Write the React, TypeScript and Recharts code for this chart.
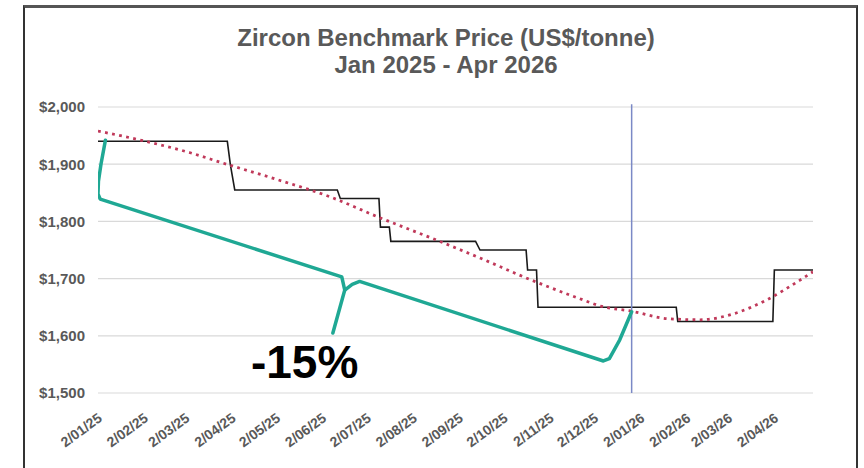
import { LineChart, Line, XAxis, YAxis, CartesianGrid, ReferenceLine, ReferenceDot } from 'recharts';

// x values are days counted from 2 Jan 2025
const tickDays = [0, 31, 59, 90, 120, 151, 181, 212, 243, 273, 304, 334, 365, 396, 424, 455];
const tickLabels = [
    '2/01/25', '2/02/25', '2/03/25', '2/04/25', '2/05/25', '2/06/25', '2/07/25', '2/08/25',
    '2/09/25', '2/10/25', '2/11/25', '2/12/25', '2/01/26', '2/02/26', '2/03/26', '2/04/26',
];
const priceTicks = [1500, 1600, 1700, 1800, 1900, 2000];

// benchmark price (step line)
const priceDays = [0, 87, 89, 90, 92, 161, 163, 189, 190, 196, 197, 254, 257, 288, 289, 295, 296, 389, 390, 454, 455, 481];
const prices = [1940, 1940, 1900, 1885, 1855, 1855, 1840, 1840, 1790, 1790, 1765, 1765, 1750, 1750, 1715, 1715, 1650, 1650, 1625, 1625, 1715, 1715];

// polynomial trendline
const trendDays = [0, 37, 62, 84, 122, 156, 190, 230, 257, 291, 324, 338, 359, 383, 405, 427, 450, 472, 481];
const trendValues = [1958, 1937, 1920, 1902, 1872, 1843, 1806, 1765, 1736, 1698, 1665, 1652, 1643, 1630, 1628, 1638, 1663, 1697, 1712];

// hand drawn brace annotation
const braceLeftDays = [5, 2, 0.3, 0, 1.5, 164, 166, 158];
const braceLeftValues = [1942, 1900, 1870, 1848, 1839, 1703, 1680, 1605];
const braceRightDays = [166, 171, 176, 340, 344, 351, 359];
const braceRightValues = [1680, 1690, 1695, 1556, 1560, 1593, 1642];

const markerDay = 359;
const changeLabel = '-15%';

const zip = (xs: number[], ys: number[]) => xs.map((day, i) => ({ day, v: ys[i] }));

const priceData = zip(priceDays, prices);
const trendData = zip(trendDays, trendValues);
const braceLeft = zip(braceLeftDays, braceLeftValues);
const braceRight = zip(braceRightDays, braceRightValues);

const FONT = '"Liberation Sans", Arial, sans-serif';
const GREY = '#595959';
const TEAL = '#1fa894';

const DateTick = (props: any) => {
    const { x, y, payload } = props;
    const idx = tickDays.indexOf(payload.value);
    return (
        <g transform={`translate(${x - 1},${y + 11})`}>
            <text
                x={0}
                y={0}
                dy="0.72em"
                textAnchor="end"
                transform="rotate(-36)"
                fontSize={14}
                fontWeight={700}
                fill={GREY}
                fontFamily={FONT}
            >
                {tickLabels[idx]}
            </text>
        </g>
    );
};

const App = () => {
    return (
        <div style={{ position: 'fixed', left: 0, top: 0, width: 864, height: 468, background: '#fff', overflow: 'hidden', fontFamily: FONT }}>
            {/* frame */}
            <div
                style={{
                    position: 'absolute',
                    left: 23,
                    top: 5,
                    width: 835,
                    height: 490,
                    boxSizing: 'border-box',
                    borderTop: '3px solid #555',
                    borderLeft: '2px solid #333',
                    borderRight: '2px solid #333',
                }}
            />
            {/* title */}
            <div
                style={{
                    position: 'absolute',
                    left: 0,
                    width: 892,
                    top: 25,
                    textAlign: 'center',
                    color: GREY,
                    fontWeight: 700,
                    fontSize: 24,
                    lineHeight: '26.6px',
                }}
            >
                Zircon Benchmark Price (US$/tonne)
                <br />
                Jan 2025 - Apr 2026
            </div>
            <div style={{ position: 'absolute', left: 0, top: 0 }}>
                <LineChart width={864} height={468} margin={{ top: 107, right: 51, bottom: 15, left: 38 }}>
                    <CartesianGrid vertical={false} stroke="#d9d9d9" strokeWidth={1.2} />
                    <XAxis
                        type="number"
                        dataKey="day"
                        domain={[0, 481]}
                        ticks={tickDays}
                        allowDataOverflow
                        interval={0}
                        axisLine={false}
                        tickLine={false}
                        height={60}
                        tick={<DateTick />}
                    />
                    <YAxis
                        domain={[1500, 2000]}
                        ticks={priceTicks}
                        allowDataOverflow
                        width={60}
                        axisLine={false}
                        tickLine={false}
                        tickMargin={7}
                        tickFormatter={(v: number) => `$${v.toLocaleString('en-US')}`}
                        tick={{ fill: GREY, fontSize: 15, fontWeight: 700, fontFamily: FONT }}
                    />
                    <Line
                        data={priceData}
                        dataKey="v"
                        type="linear"
                        stroke="#1a1a1a"
                        strokeWidth={1.6}
                        dot={false}
                        activeDot={false}
                        isAnimationActive={false}
                    />
                    <Line
                        data={trendData}
                        dataKey="v"
                        type="monotone"
                        stroke="#c0395a"
                        strokeWidth={2.8}
                        strokeDasharray="2.8 4.4"
                        dot={false}
                        activeDot={false}
                        isAnimationActive={false}
                    />
                    <ReferenceLine
                        segment={[{ x: markerDay, y: 2005 }, { x: markerDay, y: 1500 }]}
                        stroke="#7b89c6"
                        strokeWidth={1.5}
                        ifOverflow="visible"
                    />
                    <Line
                        data={braceLeft}
                        dataKey="v"
                        type="linear"
                        stroke={TEAL}
                        strokeWidth={3.5}
                        strokeLinejoin="round"
                        strokeLinecap="round"
                        dot={false}
                        activeDot={false}
                        isAnimationActive={false}
                    />
                    <Line
                        data={braceRight}
                        dataKey="v"
                        type="linear"
                        stroke={TEAL}
                        strokeWidth={3.5}
                        strokeLinejoin="round"
                        strokeLinecap="round"
                        dot={false}
                        activeDot={false}
                        isAnimationActive={false}
                    />
                    <ReferenceDot
                        x={139}
                        y={1555}
                        r={0}
                        ifOverflow="visible"
                        label={{ value: changeLabel, position: 'center', fontSize: 46, fontWeight: 700, fill: '#000', fontFamily: FONT }}
                    />
                </LineChart>
            </div>
        </div>
    );
};

export default App;
